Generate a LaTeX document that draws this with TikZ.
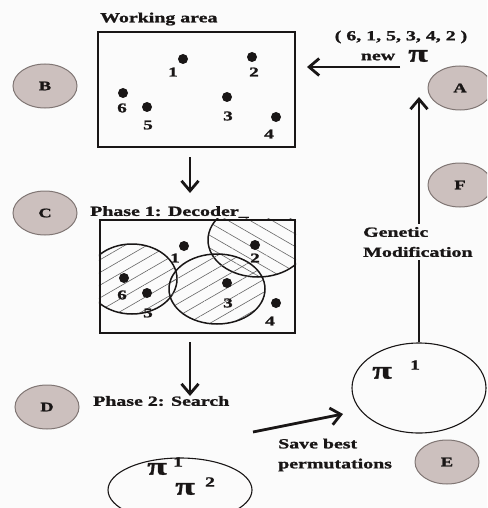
\documentclass[tikz,border=0pt]{standalone}
\usepackage{fontspec}
\setmainfont{Liberation Serif}[FakeStretch=1.42, BoldFeatures={FakeBold=1.3}]
\usetikzlibrary{shapes.geometric,arrows.meta,patterns.meta}
\definecolor{lettfill}{RGB}{204,192,190}
\definecolor{lettline}{RGB}{128,118,116}
\definecolor{ink}{RGB}{25,22,22}
\begin{document}
\begin{tikzpicture}[x=1pt,y=-1pt,
  lab/.style={font=\bfseries\fontsize{14}{20}\selectfont, inner sep=0pt, text=ink},
  letter/.style={ellipse, draw=lettline, line width=1pt, fill=lettfill, minimum width=64pt, minimum height=44pt, inner sep=0pt, font=\bfseries\fontsize{13}{14}\selectfont, text=ink},
  dot/.style={circle, fill=ink, minimum size=10pt, inner sep=0pt},
  num/.style={font=\bfseries\fontsize{13.5}{15}\selectfont, inner sep=0pt, text=ink},
  bigpi/.style={font=\bfseries\fontsize{25}{25}\selectfont, inner sep=0pt, text=ink},
  sup/.style={font=\bfseries\fontsize{14}{14}\selectfont, inner sep=0pt, text=ink},
  area/.style={draw=ink, line width=2.2pt, inner sep=0pt},
  zone/.style={draw=ink, line width=1.5pt},
  hatchA/.style={pattern={Lines[angle=30,distance=11pt,line width=0.6pt]}, pattern color=gray!80!black},
  hatchB/.style={pattern={Lines[angle=-30,distance=11pt,line width=0.6pt]}, pattern color=gray!80!black},
  pool/.style={ellipse, draw=ink, line width=1.1pt, inner sep=0pt},
  arr/.style={-{Straight Barb[length=10pt,width=17pt,line width=2.8pt]}, line width=2.8pt, draw=ink},
]
\useasboundingbox (0,0) rectangle (487,508);
\clip (0,0) rectangle (487,508);
\fill[white!97!gray] (0,0) rectangle (487,508);

% letter markers
\node[letter] (A) at (460,88) {A};
\node[letter] (B) at (45,86) {B};
\node[letter] (C) at (45,213) {C};
\node[letter] (D) at (47,407) {D};
\node[letter] (E) at (447,462) {E};
\node[letter] (F) at (460,185) {F};

% working area
\node[lab, anchor=west] (t1) at (100,19) {Working area};
\node[area, minimum width=197pt, minimum height=115pt] (box1) at (196.5,89.5) {};
\node[dot] (a1) at (183,59) {};
\node[dot] (a2) at (252,57) {};
\node[dot] (a3) at (227,97) {};
\node[dot] (a4) at (276,117) {};
\node[dot] (a5) at (147,107) {};
\node[dot] (a6) at (123,93) {};
\node[num] (m1) at (173,72) {1};
\node[num] (m2) at (254,72) {2};
\node[num] (m3) at (228,116) {3};
\node[num] (m4) at (269,134) {4};
\node[num] (m5) at (148,125) {5};
\node[num] (m6) at (122,108) {6};

% new permutation
\node[lab] (perm) at (401,37) {( 6, 1, 5, 3, 4, 2 )};
\node[lab] (new) at (378,57) {new};
\node[bigpi] (npi) at (418,56) {π};
\coordinate (newstart) at (400,67);
\coordinate (newend) at (307,67);
\draw[arr] (newstart) -- (newend);

% arrow down to phase 1
\coordinate (d1s) at (190,157);
\coordinate (d1e) at (190,193);
\draw[arr] (d1s) -- (d1e);

% phase 1
\node[lab, anchor=west] (t2) at (90,212) {Phase 1: Decoder\_};
\node[area, minimum width=195pt, minimum height=113pt] (box2) at (197.5,276.5) {};
\begin{scope}
  \clip (box2.north west) rectangle (box2.south east);
  \filldraw[zone, hatchA] (132,279) ellipse [x radius=45, y radius=35];
  \filldraw[zone, hatchB] (258,240) ellipse [x radius=50, y radius=37];
  \filldraw[zone, hatchA] (217,289) ellipse [x radius=48, y radius=35];
\end{scope}
\node[area, minimum width=195pt, minimum height=113pt] (box2b) at (197.5,276.5) {};
\node[dot] (b1) at (184,246) {};
\node[dot] (b2) at (255,245) {};
\node[dot] (b3) at (227,283) {};
\node[dot] (b4) at (276,303) {};
\node[dot] (b5) at (147,293) {};
\node[dot] (b6) at (124,278) {};
\node[num] (k1) at (175,258) {1};
\node[num] (k2) at (255,258) {2};
\node[num] (k3) at (228,303) {3};
\node[num] (k4) at (270,321) {4};
\node[num] (k5) at (148,313) {5};
\node[num] (k6) at (122,295) {6};

% arrow down to phase 2
\coordinate (d2s) at (190,342);
\coordinate (d2e) at (190,396);
\draw[arr] (d2s) -- (d2e);

% phase 2
\node[lab, anchor=west] (t3) at (93,401) {Phase 2: Search};
\node[pool, minimum width=144pt, minimum height=64pt] (p12) at (180,490) {};
\node[bigpi] (pa) at (157,469) {π};
\node[sup] (sa) at (178,462) {1};
\node[bigpi] (pb) at (185,489) {π};
\node[sup] (sb) at (210,482) {2};

% saved permutations
\node[pool, minimum width=134pt, minimum height=90pt] (p1) at (419,388) {};
\node[bigpi] (pc) at (382,373) {π};
\node[sup] (sc) at (415,365) {1};

\coordinate (svs) at (253,432);
\coordinate (sve) at (343,414);
\draw[arr] (svs) -- (sve);
\node[lab, anchor=west, align=left] (save) at (278,455) {Save best\\permutations};

% genetic modification
\coordinate (gtop) at (p1.north |- 0,97);
\draw[arr] (p1.north) -- (gtop);
\node[lab, anchor=west, align=left, fill=white!97!gray, inner ysep=3pt] (gen) at (363,242) {Genetic\\Modification};
\end{tikzpicture}
\end{document}
